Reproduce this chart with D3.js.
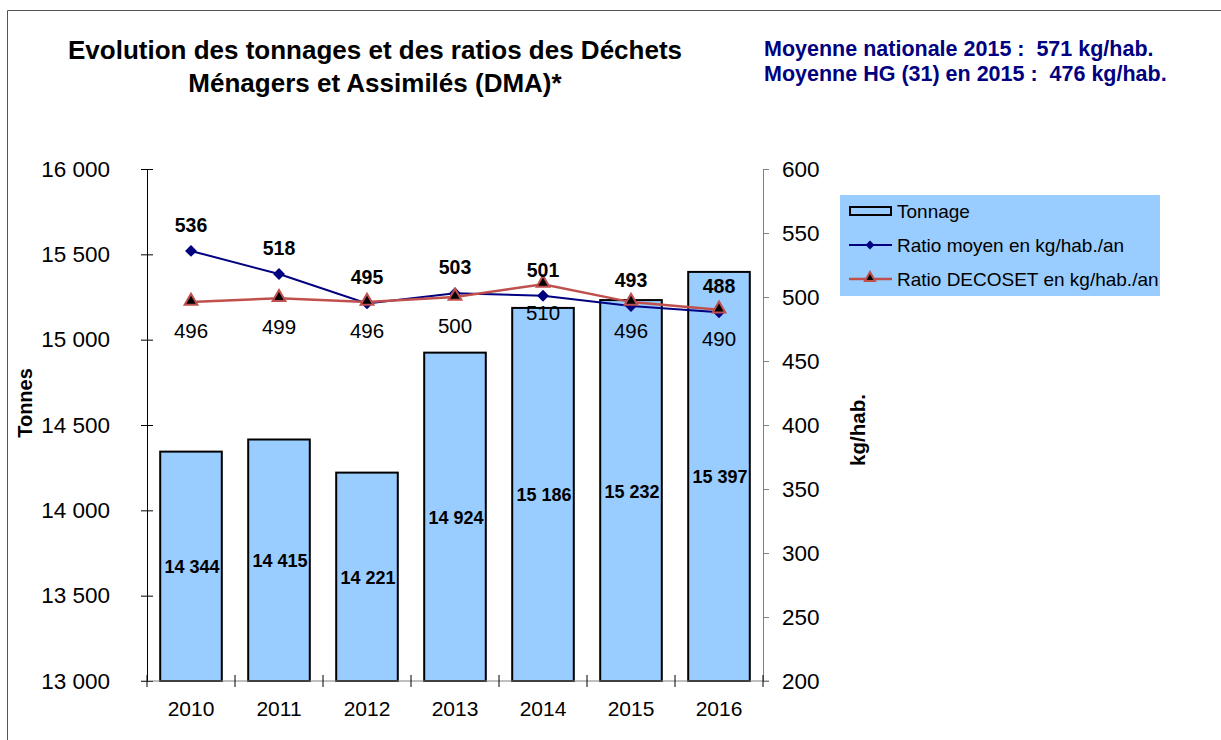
<!DOCTYPE html>
<html>
<head>
<meta charset="utf-8">
<script src="https://cdn.jsdelivr.net/npm/d3@7"></script>
<style>
  body { margin: 0; background: #fff; }
  svg { font-family: Arial, "Liberation Sans", sans-serif; }
</style>
</head>
<body>
<svg id="chart" width="1221" height="740"></svg>
<script>
const years = ["2010", "2011", "2012", "2013", "2014", "2015", "2016"];
const tonnage = [14344, 14415, 14221, 14924, 15186, 15232, 15397];
const ratioMoyen = [536, 518, 495, 503, 501, 493, 488];
const ratioDecoset = [496, 499, 496, 500, 510, 496, 490];
const leftTicks = [13000, 13500, 14000, 14500, 15000, 15500, 16000];
const rightTicks = [200, 250, 300, 350, 400, 450, 500, 550, 600];

const svg = d3.select("#chart");
const plotLeft = 147, plotRight = 763, plotTop = 169, plotBottom = 681;
const fmt = (v) => d3.format(",")(v).replace(/,/g, " ");

// frame
svg.append("path")
  .attr("d", "M7.5,740 L7.5,10.5 L1221,10.5")
  .attr("fill", "none")
  .attr("stroke", "#555");

const x = d3.scaleBand().domain(years).range([plotLeft, plotRight]).paddingInner(0.3).paddingOuter(0.15);
const yL = d3.scaleLinear().domain([13000, 16000]).range([plotBottom, plotTop]);
const yR = d3.scaleLinear().domain([200, 600]).range([plotBottom, plotTop]);
const cx = (d) => x(d) + x.bandwidth() / 2;

// bars
svg.selectAll("rect.bar")
  .data(tonnage)
  .enter()
  .append("rect")
  .attr("class", "bar")
  .attr("x", (d, i) => x(years[i]))
  .attr("y", (d) => yL(d))
  .attr("width", x.bandwidth())
  .attr("height", (d) => plotBottom - yL(d))
  .attr("fill", "#99ccff")
  .attr("stroke", "#000")
  .attr("stroke-width", 2);

svg.selectAll("text.barlab")
  .data(tonnage)
  .enter()
  .append("text")
  .attr("x", (d, i) => cx(years[i]) + 1)
  .attr("y", (d) => (yL(d) + plotBottom) / 2 + 7)
  .attr("text-anchor", "middle")
  .style("font-size", "18px")
  .style("font-weight", "bold")
  .text((d) => fmt(d));

// left axis
const leftAxis = svg.append("g")
  .attr("transform", `translate(${plotLeft},0)`)
  .call(d3.axisLeft(yL).tickValues(leftTicks).tickSize(6).tickFormat(fmt));
leftAxis.select(".domain").attr("stroke", "#000");
leftAxis.selectAll(".tick line").attr("x1", -6).attr("x2", 6);
leftAxis.selectAll(".tick text")
  .attr("x", -37)
  .style("font-size", "22.5px")
  .style("font-family", "Arial, 'Liberation Sans', sans-serif");

// right axis
const rightAxis = svg.append("g")
  .attr("transform", `translate(${plotRight},0)`)
  .call(d3.axisRight(yR).tickValues(rightTicks).tickSize(6));
rightAxis.select(".domain").attr("stroke", "#808080");
rightAxis.selectAll(".tick line").attr("stroke", "#808080");
rightAxis.selectAll(".tick text")
  .attr("x", 19)
  .style("font-size", "22.5px")
  .style("font-family", "Arial, 'Liberation Sans', sans-serif");

// bottom axis
const xAxis = svg.append("g").attr("transform", `translate(0,${plotBottom})`);
xAxis.append("line")
  .attr("x1", plotLeft - 6).attr("x2", plotRight + 6)
  .attr("stroke", "#808080");
const bounds = d3.range(years.length + 1).map((i) => plotLeft + (i * (plotRight - plotLeft)) / years.length);
xAxis.selectAll("line.xt")
  .data(bounds)
  .enter()
  .append("line")
  .attr("x1", (d) => d).attr("x2", (d) => d)
  .attr("y1", -6).attr("y2", 6)
  .attr("stroke", "#000");
xAxis.selectAll("text")
  .data(years)
  .enter()
  .append("text")
  .attr("x", (d) => cx(d))
  .attr("y", 35)
  .attr("text-anchor", "middle")
  .style("font-size", "21px")
  .text((d) => d);

// lines
const line = (arr) => d3.line().x((d, i) => cx(years[i])).y((d) => yR(d))(arr);
const red = "#c0504d", navy = "#000080";

svg.append("path").attr("d", line(ratioMoyen))
  .attr("fill", "none").attr("stroke", navy).attr("stroke-width", 2);
svg.append("path").attr("d", line(ratioDecoset))
  .attr("fill", "none").attr("stroke", red).attr("stroke-width", 2.5);

const diamond = d3.symbol().type(d3.symbolDiamond2).size(90);
const tri = d3.symbol().type(d3.symbolTriangle).size(70);

svg.selectAll("path.dm")
  .data(ratioMoyen)
  .enter()
  .append("path")
  .attr("d", diamond)
  .attr("transform", (d, i) => `translate(${cx(years[i])},${yR(d)})`)
  .attr("fill", navy);

svg.selectAll("path.tr")
  .data(ratioDecoset)
  .enter()
  .append("path")
  .attr("d", tri)
  .attr("transform", (d, i) => `translate(${cx(years[i])},${yR(d) - 1})`)
  .attr("fill", "#000")
  .attr("stroke", red)
  .attr("stroke-width", 2);

svg.selectAll("text.ml")
  .data(ratioMoyen)
  .enter()
  .append("text")
  .attr("x", (d, i) => cx(years[i]))
  .attr("y", (d) => yR(d) - 19)
  .attr("text-anchor", "middle")
  .style("font-size", "19.5px")
  .style("font-weight", "bold")
  .text((d) => d);

svg.selectAll("text.dl")
  .data(ratioDecoset)
  .enter()
  .append("text")
  .attr("x", (d, i) => cx(years[i]))
  .attr("y", (d) => yR(d) + 36)
  .attr("text-anchor", "middle")
  .style("font-size", "20.5px")
  .text((d) => d);

// titles
const title = svg.append("text")
  .attr("text-anchor", "middle")
  .style("font-size", "26px")
  .style("font-weight", "bold");
title.append("tspan").attr("x", 375).attr("y", 59).text("Evolution des tonnages et des ratios des Déchets");
title.append("tspan").attr("x", 375).attr("y", 92).text("Ménagers et Assimilés (DMA)*");

const info = svg.append("text")
  .style("font-size", "21.5px")
  .style("font-weight", "bold")
  .attr("fill", navy);
info.append("tspan").attr("x", 764).attr("y", 56).text("Moyenne nationale 2015 :\u00a0 571 kg/hab.");
info.append("tspan").attr("x", 764).attr("y", 81).text("Moyenne HG (31) en 2015 :\u00a0 476 kg/hab.");

svg.append("text")
  .attr("transform", "translate(32,403) rotate(-90)")
  .attr("text-anchor", "middle")
  .style("font-size", "20px")
  .style("font-weight", "bold")
  .text("Tonnes");

svg.append("text")
  .attr("transform", "translate(865,430) rotate(-90)")
  .attr("text-anchor", "middle")
  .style("font-size", "20.5px")
  .style("font-weight", "bold")
  .text("kg/hab.");

// legend
const lg = svg.append("g");
lg.append("rect")
  .attr("x", 840).attr("y", 195).attr("width", 320).attr("height", 101)
  .attr("fill", "#99ccff");
lg.append("rect")
  .attr("x", 850).attr("y", 207).attr("width", 41).attr("height", 8)
  .attr("fill", "#99ccff").attr("stroke", "#000").attr("stroke-width", 2);
lg.append("line").attr("x1", 849).attr("x2", 892).attr("y1", 245).attr("y2", 245)
  .attr("stroke", navy).attr("stroke-width", 2);
lg.append("path").attr("d", d3.symbol().type(d3.symbolDiamond2).size(50))
  .attr("transform", "translate(870,245)").attr("fill", navy);
lg.append("line").attr("x1", 849).attr("x2", 892).attr("y1", 279).attr("y2", 279)
  .attr("stroke", red).attr("stroke-width", 2.5);
lg.append("path").attr("d", d3.symbol().type(d3.symbolTriangle).size(45))
  .attr("transform", "translate(870,278)").attr("fill", "#000").attr("stroke", red).attr("stroke-width", 2);
const legendNames = ["Tonnage", "Ratio moyen en kg/hab./an", "Ratio DECOSET en kg/hab./an"];
lg.selectAll("text.lt")
  .data(legendNames)
  .enter()
  .append("text")
  .attr("x", 897)
  .attr("y", (d, i) => 218 + i * 34)
  .style("font-size", "19px")
  .text((d) => d);
</script>
</body>
</html>
